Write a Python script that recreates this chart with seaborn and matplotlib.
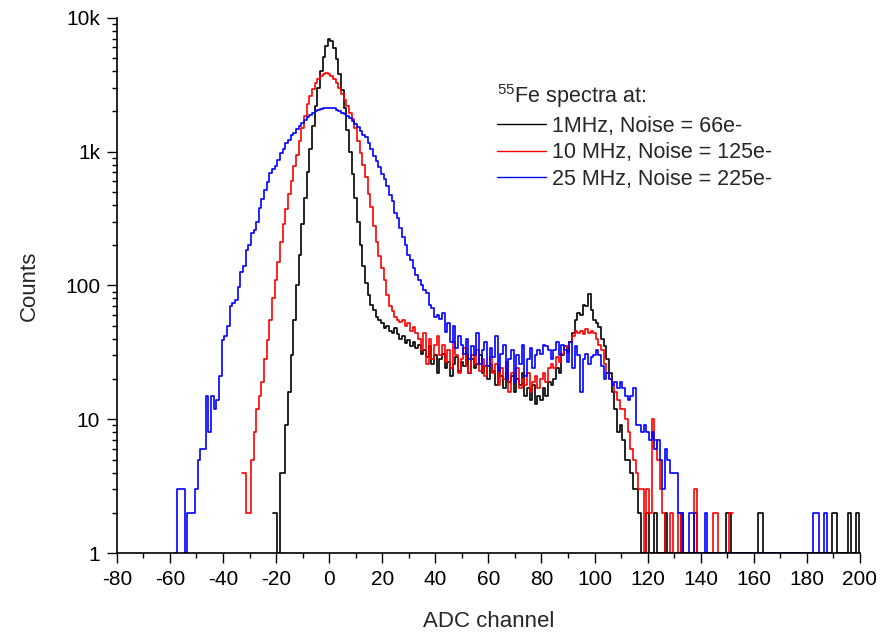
import numpy as np
import pandas as pd
import seaborn as sns
import matplotlib
matplotlib.use('Agg')
import matplotlib.pyplot as plt
from matplotlib.ticker import FixedLocator, FixedFormatter, MultipleLocator, LogLocator, NullFormatter

# counts per ADC channel (1 = sits on the axis)
black_start = -21
black = [
    2, 2, 1, 4, 4, 9, 16, 30, 55, 100,
    170, 290, 450, 700, 1050, 1550, 2200, 3000, 4000, 5100,
    6200, 7000, 6700, 5900, 4900, 3800, 2900, 2100, 1450, 1000,
    680, 450, 300, 200, 140, 105, 85, 72, 66, 58,
    55, 52, 48, 50, 46, 44, 48, 43, 40, 42,
    37, 39, 35, 38, 34, 36, 31, 33, 29, 35,
    26, 30, 22, 28, 31, 24, 27, 21, 26, 29,
    23, 27, 25, 31, 22, 28, 24, 26, 30, 22,
    25, 20, 26, 23, 18, 24, 21, 17, 23, 19,
    21, 16, 20, 18, 22, 15, 17, 14, 18, 13,
    15, 14, 17, 15, 19, 18, 20, 24, 22, 30,
    35, 32, 38, 44, 55, 62, 60, 72, 70, 86,
    66, 55, 52, 49, 40, 35, 28, 22, 16, 12,
    8, 9, 7, 5, 5, 4, 3, 3, 2, 1,
    1, 2, 1, 1, 2, 1, 1, 1, 2, 1,
    1, 1, 1, 1, 2, 1, 1, 1, 1, 2,
    1, 1, 1, 1, 1, 1, 1, 1, 1, 1,
    1, 2, 2, 1, 1, 1, 1, 1, 1, 1,
    1, 1, 1, 2, 2, 1, 1, 1, 1, 1,
    1, 1, 1, 1, 1, 1, 1, 1, 1, 1,
    1, 1, 1, 1, 1, 1, 1, 1, 1, 1,
    1, 2, 2, 1, 1, 1, 1, 2, 1, 1,
    2, 1,
]

red_start = -33
red = [
    4, 4, 2, 2, 5, 8, 12, 15, 19, 28,
    39, 55, 80, 110, 150, 210, 290, 370, 480, 600,
    780, 950, 1200, 1500, 1850, 2250, 2600, 2950, 3250, 3500,
    3700, 3800, 3850, 3800, 3700, 3500, 3250, 3000, 2700, 2450,
    2200, 1950, 1750, 1500, 1200, 980, 800, 650, 480, 385,
    280, 210, 165, 135, 110, 85, 70, 64, 58, 55,
    53, 55, 50, 52, 46, 49, 44, 40, 33, 44,
    26, 40, 28, 36, 42, 30, 36, 27, 33, 24,
    38, 30, 22, 28, 34, 25, 22, 30, 26, 33,
    23, 28, 21, 25, 29, 22, 26, 18, 24, 20,
    27, 16, 22, 19, 24, 17, 20, 18, 22, 16,
    19, 21, 17, 20, 22, 19, 24, 26, 24, 29,
    27, 31, 35, 34, 38, 42, 46, 44, 46, 43,
    47, 44, 46, 44, 40, 36, 33, 26, 22, 20,
    18, 16, 14, 12, 12, 10, 8, 6, 5, 4,
    3, 3, 1, 3, 2, 10, 7, 5, 3, 2,
    1, 1, 2, 1, 1, 2, 1, 1, 1, 1,
    1, 3, 1, 1, 1, 1, 1, 1, 2, 2,
    1, 1, 1, 1, 2, 2,
]

blue_start = -58
blue = [
    1, 3, 3, 3, 1, 2, 2, 2, 3, 5,
    6, 6, 15, 8, 15, 12, 14, 21, 39, 42,
    50, 70, 74, 78, 98, 125, 140, 185, 200, 245,
    260, 300, 380, 440, 520, 590, 690, 740, 780, 870,
    980, 1050, 1150, 1230, 1320, 1380, 1480, 1560, 1650, 1720,
    1800, 1880, 1950, 2000, 2050, 2080, 2100, 2120, 2130, 2120,
    2100, 2060, 2000, 1950, 1900, 1830, 1780, 1700, 1600, 1520,
    1420, 1340, 1280, 1150, 1050, 930, 850, 770, 680, 620,
    550, 470, 430, 350, 320, 270, 230, 200, 170, 155,
    135, 120, 110, 100, 92, 88, 72, 68, 58, 60,
    56, 62, 45, 52, 38, 50, 34, 42, 36, 31,
    40, 28, 35, 30, 44, 26, 33, 38, 25, 34,
    29, 42, 23, 31, 36, 20, 28, 33, 19, 30,
    26, 36, 21, 28, 34, 24, 30, 33, 31, 36,
    35, 33, 28, 33, 38, 30, 36, 33, 27, 38,
    24, 35, 30, 16, 28, 31, 26, 29, 30, 33,
    30, 25, 20, 22, 20, 18, 19, 17, 19, 17,
    15, 14, 15, 17, 9, 9, 8, 9, 8, 7,
    8, 6, 7, 5, 3, 6, 5, 4, 4, 4,
    2, 2, 1, 1, 2, 2, 1, 1, 1, 1,
    2, 1, 1, 1, 1, 1, 1, 1, 1, 1,
    1, 1, 1, 1, 1, 1, 1, 1, 1, 1,
    1, 1, 1, 1, 1, 1, 1, 1, 1, 1,
    1, 1, 1, 1, 1, 1, 1, 1, 1, 1,
    1, 2, 2, 1, 1, 2, 1,
]

labels = ['1MHz, Noise = 66e-', '10 MHz, Noise = 125e-', '25 MHz, Noise = 225e-']
colors = ['black', '#ff0000', '#0000ff']

sns.set_style('ticks')
plt.rcParams['font.family'] = ['Liberation Sans', 'DejaVu Sans']
plt.rcParams['mathtext.fontset'] = 'custom'
plt.rcParams['mathtext.rm'] = 'Liberation Sans'
plt.rcParams['axes.unicode_minus'] = False

frames = []
for start, counts, lab in [(black_start, black, labels[0]),
                           (red_start, red, labels[1]),
                           (blue_start, blue, labels[2])]:
    frames.append(pd.DataFrame({'channel': np.arange(start, start + len(counts)),
                                'counts': counts, 'series': lab}))
df = pd.concat(frames, ignore_index=True)

fig = plt.figure(figsize=(8.92, 6.35), dpi=100)
ax = fig.add_axes([0.131, 0.129, 0.833, 0.843])

for lab, col in zip(labels, colors):
    sns.lineplot(data=df[df['series'] == lab], x='channel', y='counts', color=col,
                 label=lab, estimator=None, drawstyle='steps-mid', linewidth=1.2, ax=ax)

ax.set_yscale('log')
ax.set_xlim(-80, 200)
ax.set_ylim(1, 10000)

ax.xaxis.set_major_locator(MultipleLocator(20))
ax.xaxis.set_minor_locator(MultipleLocator(10))
ax.yaxis.set_major_locator(FixedLocator([1, 10, 100, 1000, 10000]))
ax.yaxis.set_major_formatter(FixedFormatter(['1', '10', '100', '1k', '10k']))
ax.yaxis.set_minor_locator(LogLocator(base=10, subs=np.arange(2, 10)))
ax.yaxis.set_minor_formatter(NullFormatter())

ax.tick_params(which='major', length=7, width=1, labelsize=15, pad=5,
               color='black', labelcolor='black')
ax.tick_params(which='minor', length=3.5, width=1, color='black')
for side in ['top', 'right']:
    ax.spines[side].set_visible(False)
for side in ['left', 'bottom']:
    ax.spines[side].set_linewidth(1.2)
    ax.spines[side].set_color('black')

ax.set_xlabel('ADC channel', fontsize=16, labelpad=16)
ax.set_ylabel('Counts', fontsize=16, labelpad=18)

leg = ax.legend(title=r'$^{55}$Fe spectra at:', loc='upper left', bbox_to_anchor=(0.5, 0.895),
                frameon=False, fontsize=15.5, title_fontsize=15.5, handlelength=2.3,
                handletextpad=0.25, labelspacing=0.25, alignment='left', borderaxespad=0)
for line in leg.get_lines():
    line.set_linewidth(1.0)

fig.savefig('out.png', dpi=100)
